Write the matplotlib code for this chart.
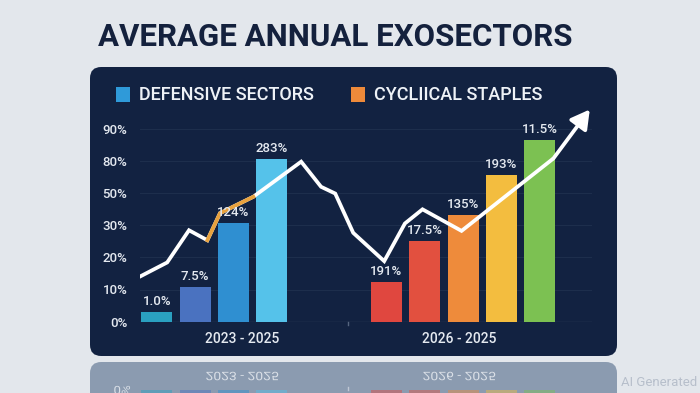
import matplotlib
matplotlib.use('Agg')
import matplotlib.pyplot as plt
import matplotlib.transforms as mtransforms
from matplotlib.patches import FancyBboxPatch, Rectangle, PathPatch
from matplotlib.textpath import TextPath
from matplotlib.font_manager import FontProperties

plt.rcParams['font.family'] = ['Roboto', 'DejaVu Sans']

# ---- data (y is on the chart's own category scale: 0..6) ----
y_tick_labels = ['0%', '10%', '20%', '30%', '50%', '80%', '90%']
bar_x = [0, 1, 2, 3, 6, 7, 8, 9, 10]
bar_h = [0.31, 1.07, 3.06, 5.05, 1.23, 2.51, 3.31, 4.55, 5.64]
bar_labels = ['1.0%', '7.5%', '124%', '283%', '191%', '17.5%', '135%', '193%', '11.5%']
bar_colors = ['#2aa0c0', '#4a72c0', '#2f8fd1', '#55c2ea',
              '#e0473f', '#e2503f', '#ee8b3b', '#f3bd3f', '#7cc152']
group_names = ['2023 - 2025', '2026 - 2025']
group_pos = [2.23, 7.9]
line_x = [-0.46, 0.27, 0.84, 1.32, 1.65, 2.52, 3.77, 4.29, 4.66, 5.13, 5.94, 6.48, 6.94, 7.96, 10.36]
line_y = [1.39, 1.84, 2.84, 2.53, 3.37, 3.88, 4.97, 4.19, 3.98, 2.76, 1.88, 3.05, 3.49, 2.82, 5.07]
arrow_tip = (11.31, 6.59)
legend_names = ['DEFENSIVE SECTORS', 'CYCLIICAL STAPLES']
legend_colors = ['#2f9ad9', '#ee8a3a']

W, H = 700, 393
bg = '#e3e7ec'
panel = '#122241'
txt = '#e4e9f0'


def fx(px):
    return px / W


def fy(py):
    return 1 - py / H


fig = plt.figure(figsize=(7, 3.93), dpi=100, facecolor=bg)

# title
fig.text(fx(98), fy(45.7), 'AVERAGE ANNUAL EXOSECTORS', fontsize=22.5, fontweight='bold',
         color='#14213d', va='baseline', ha='left')

# dark panel
fig.patches.append(FancyBboxPatch((fx(90), fy(356)), (617 - 90) / W, (356 - 67) / H,
                                  boxstyle='round,pad=0,rounding_size=0.016',
                                  mutation_aspect=W / H, transform=fig.transFigure,
                                  facecolor=panel, edgecolor='none', zorder=-2))
# reflection panel
fig.patches.append(FancyBboxPatch((fx(90), fy(420)), (617 - 90) / W, (420 - 362) / H,
                                  boxstyle='round,pad=0,rounding_size=0.016',
                                  mutation_aspect=W / H, transform=fig.transFigure,
                                  facecolor='#8b9bb0', edgecolor='none', zorder=-2))

# legend
lx = [115.7, 350.7]
tx = [139.3, 374]
for i in range(2):
    fig.patches.append(Rectangle((fx(lx[i]), fy(101.7)), 14.6 / W, 15 / H,
                                 transform=fig.transFigure, facecolor=legend_colors[i],
                                 edgecolor='none', zorder=-1))
    fig.text(fx(tx[i]), fy(100), legend_names[i], fontsize=13, fontweight='medium',
             color='#eef2f7', va='baseline', ha='left')

# main axes
ax = fig.add_axes([fx(140), fy(321.7), (591.7 - 140) / W, 6.7 * 32.2 / H])
ax.patch.set_visible(False)
ax.set_xlim(-0.44, 11.36)
ax.set_ylim(0, 6.7)
for s in ax.spines.values():
    s.set_visible(False)
ax.set_xticks([])
ax.set_yticks(range(len(y_tick_labels)))
ax.set_yticklabels(y_tick_labels, fontweight='medium')
ax.tick_params(axis='y', length=0, pad=9, labelsize=9.5, labelcolor=txt)
for y in range(1, len(y_tick_labels)):
    ax.axhline(y, color='#1d2e4c', lw=0.8, zorder=0)
ax.axhline(0, color='#3b4b68', lw=0.9, zorder=0)
ax.plot([5, 5], [0, -0.1], color='#55657f', lw=1, clip_on=False)

bars = ax.bar(bar_x, bar_h, width=0.81, color=bar_colors, zorder=2)
ax.bar_label(bars, labels=bar_labels, padding=3, fontsize=9.5, fontweight='medium',
             color=txt, zorder=6)

for name, gx in zip(group_names, group_pos):
    ax.text(gx, -0.67, name, ha='center', va='baseline', fontsize=10,
            fontweight='medium', color=txt)

ax.plot(line_x, line_y, color='white', lw=2.7, zorder=4, solid_joinstyle='miter',
        solid_capstyle='butt')
ax.plot(line_x[3:6], line_y[3:6], color='#e8a23e', lw=2.7, zorder=5,
        solid_joinstyle='miter')
ax.annotate('', xy=arrow_tip, xytext=(line_x[-1], line_y[-1]),
            arrowprops=dict(arrowstyle='-|>,head_length=0.8,head_width=0.45',
                            color='white', lw=2.7, mutation_scale=14,
                            shrinkA=0, shrinkB=0), zorder=4, annotation_clip=False)

# reflection below the panel
ax_r = fig.add_axes([fx(140), 0, (591.7 - 140) / W, fy(362)])
ax_r.patch.set_visible(False)
ax_r.set_axis_off()
ax_r.set_xlim(-0.44, 11.36)
ax_r.set_ylim(0.114, -1.034)
ax_r.bar(bar_x, bar_h, width=0.81, color=bar_colors, alpha=0.45)
ax_r.plot([5, 5], [0, -0.1], color='#c0c8d4', lw=1, clip_on=False)

fp = FontProperties(family='Roboto')


def mirror_text(a, x, y, s, size, color, alpha):
    tp = TextPath((0, 0), s, size=size, prop=fp)
    bb = tp.get_extents()
    tr = (mtransforms.Affine2D()
          .translate(-(bb.x0 + bb.x1) / 2, -(bb.y0 + bb.y1) / 2)
          .scale(1 / 72, -0.84 / 72)
          + fig.dpi_scale_trans
          + mtransforms.ScaledTranslation(x, y, a.transData))
    a.add_artist(PathPatch(tp, transform=tr, facecolor=color, edgecolor='none',
                           alpha=alpha, clip_on=False))


for name, gx in zip(group_names, group_pos):
    mirror_text(ax_r, gx, -0.515, name, 10, '#eef1f5', 0.8)
mirror_text(ax_r, -0.906, 0.0, y_tick_labels[0], 9.5, '#eef1f5', 0.8)

fig.text(fx(697), fy(383), 'AI Generated', ha='right', va='center', fontsize=9.5,
         color='#b7bfcb')

fig.savefig('out.png', dpi=100, facecolor=bg)
